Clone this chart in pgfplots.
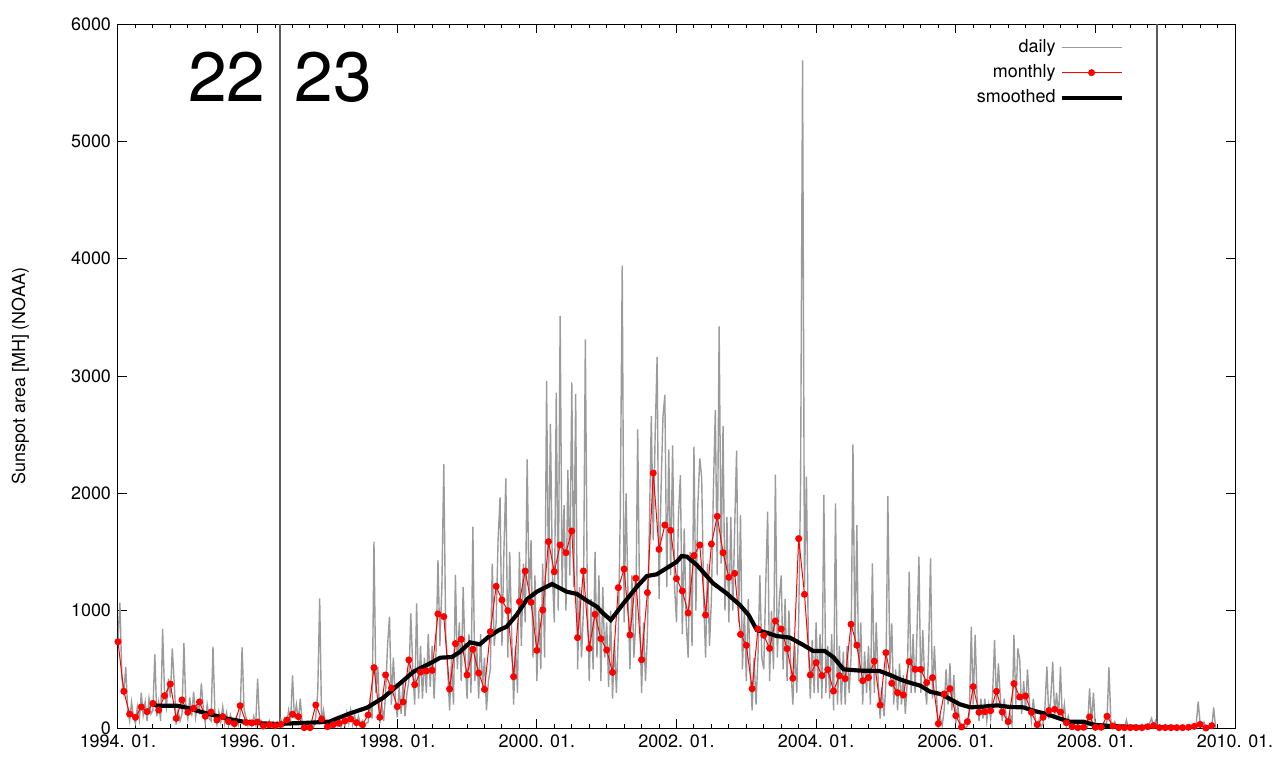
\documentclass[border=0pt]{standalone}
\usepackage{fontspec}
\setmainfont{TeX Gyre Heros}
\usepackage{pgfplots}
\pgfplotsset{compat=1.18}

\definecolor{dailygray}{RGB}{155,155,155}
\definecolor{cyclegray}{RGB}{90,90,90}

\begin{document}
\begin{tikzpicture}
\begin{axis}[
  scale only axis,
  width=558.5bp, height=352bp,
  xmin=0, xmax=192, ymin=0, ymax=6000,
  xtick={0,24,...,192},
  xticklabels={1994. 01.,1996. 01.,1998. 01.,2000. 01.,2002. 01.,2004. 01.,2006. 01.,2008. 01.,2010. 01.},
  minor x tick num=7,
  ytick={0,1000,...,6000},
  tick align=inside,
  major tick length=4.5bp, minor tick length=2.2bp,
  tick style={black, line width=0.5pt},
  axis line style={line width=0.5pt},
  /pgf/number format/1000 sep={},
  /pgf/number format/assume math mode=true,
  ticklabel style={font=\fontsize{9}{11}\selectfont},
  ylabel={Sunspot area [MH] (NOAA)},
  ylabel style={font=\fontsize{9}{11}\selectfont, at={(axis description cs:-0.0875,0.5)}, anchor=center},
  legend plot pos=right,
  legend cell align=right,
  legend style={draw=none, fill=none, font=\fontsize{9}{11}\selectfont,
    at={(rel axis cs:0.906,0.99)}, anchor=north east, row sep=0.6bp},
  legend image code/.code={\draw[mark repeat=2,mark phase=2,#1] plot coordinates {(0bp,0bp) (15bp,0bp) (30bp,0bp)};},
]
% cycle boundaries
\addplot[cyclegray, line width=0.6pt, forget plot] coordinates {(27.85,0)(27.85,6000)};
\addplot[cyclegray, line width=0.6pt, forget plot] coordinates {(178.6,0)(178.6,6000)};

% daily
\addplot[dailygray, line width=0.7pt] coordinates {
(0,760)(0.33,1068)(0.67,420)(1,300)(1.33,520)(1.67,150)(2,60)(2.33,220)(2.67,90)
(3,40)(3.33,180)(3.67,70)(4,300)(4.33,110)(4.67,220)(5,60)(5.33,250)(5.67,120)
(6,150)(6.33,628)(6.67,100)(7,220)(7.33,60)(7.67,844)(8,300)(8.33,180)(8.67,420)
(9,260)(9.33,679)(9.67,380)(10,30)(10.33,150)(10.67,60)(11,120)(11.33,724)(11.67,180)
(12,80)(12.33,260)(12.67,100)(13,310)(13.33,90)(13.67,200)(14,140)(14.33,380)(14.67,160)
(15,40)(15.33,200)(15.67,80)(16,60)(16.33,693)(16.67,110)(17,30)(17.33,140)(17.67,50)
(18,180)(18.33,40)(18.67,130)(19,20)(19.33,110)(19.67,40)(20,10)(20.33,90)(20.67,30)
(21,120)(21.33,688)(21.67,160)(22,90)(22.33,20)(22.67,70)(23,20)(23.33,100)(23.67,30)
(24,420)(24.33,40)(24.67,60)(25,0)(25.33,40)(25.67,10)(26,60)(26.33,0)(26.67,50)
(27,10)(27.33,50)(27.67,0)(28,70)(28.33,10)(28.67,40)(29,30)(29.33,150)(29.67,60)
(30,449)(30.33,80)(30.67,200)(31,60)(31.33,250)(31.67,40)(32,0)(32.33,10)(32.67,0)
(33,0)(33.33,0)(33.67,10)(34,100)(34.33,300)(34.67,1105)(35,40)(35.33,150)(35.67,30)
(36,0)(36.33,30)(36.67,0)(37,10)(37.33,70)(37.67,20)(38,80)(38.33,10)(38.67,60)
(39,20)(39.33,130)(39.67,40)(40,150)(40.33,30)(40.67,110)(41,20)(41.33,100)(41.67,30)
(42,60)(42.33,0)(42.67,40)(43,50)(43.33,220)(43.67,80)(44,1588)(44.33,300)(44.67,520)
(45,40)(45.33,200)(45.67,60)(46,300)(46.33,700)(46.67,949)(47,200)(47.33,600)(47.67,250)
(48,90)(48.33,350)(48.67,120)(49,400)(49.33,100)(49.67,300)(50,400)(50.33,977)(50.67,500)
(51,200)(51.33,1063)(51.67,250)(52,700)(52.33,250)(52.67,600)(53,300)(53.33,800)(53.67,350)
(54,700)(54.33,250)(54.67,650)(55,1432)(55.33,700)(55.67,1200)(56,2248)(56.33,800)(56.67,500)
(57,150)(57.33,600)(57.67,200)(58,1304)(58.33,500)(58.67,900)(59,400)(59.33,1200)(59.67,600)
(60,250)(60.33,800)(60.67,300)(61,1716)(61.33,400)(61.67,700)(62,250)(62.33,800)(62.67,350)
(63,600)(63.33,150)(63.67,400)(64,500)(64.33,1400)(64.67,700)(65,900)(65.33,1600)(65.67,1966)
(66,700)(66.33,1500)(66.67,2128)(67,600)(67.33,1500)(67.67,800)(68,200)(68.33,700)(68.67,300)
(69,1500)(69.33,700)(69.67,1400)(70,900)(70.33,2290)(70.67,1100)(71,1600)(71.33,600)(71.67,1300)
(72,400)(72.33,1000)(72.67,500)(73,1400)(73.33,600)(73.67,2957)(74,1200)(74.33,2591)(74.67,1300)
(75,900)(75.33,2858)(75.67,1000)(76,3512)(76.33,1200)(76.67,1900)(77,1000)(77.33,2200)(77.67,1300)
(78,2946)(78.33,1200)(78.67,2847)(79,500)(79.33,1200)(79.67,600)(80,1000)(80.33,3313)(80.67,1100)
(81,400)(81.33,1100)(81.67,500)(82,1500)(82.33,600)(82.67,1300)(83,400)(83.33,1200)(83.67,600)
(84,900)(84.33,350)(84.67,1000)(85,250)(85.33,750)(85.67,300)(86,800)(86.33,1800)(86.67,3940)
(87,900)(87.33,2000)(87.67,1100)(88,500)(88.33,1300)(88.67,600)(89,900)(89.33,2546)(89.67,1000)
(90,300)(90.33,900)(90.67,400)(91,800)(91.33,1700)(91.67,2659)(92,1600)(92.33,2500)(92.67,3160)
(93,1100)(93.33,2000)(93.67,2648)(94,2838)(94.33,1200)(94.67,2375)(95,1300)(95.33,2409)(95.67,1200)
(96,900)(96.33,1800)(96.67,2156)(97,800)(97.33,1700)(97.67,900)(98,600)(98.33,1500)(98.67,700)
(99,2398)(99.33,1000)(99.67,1900)(100,2298)(100.33,2136)(100.67,1100)(101,600)(101.33,1400)(101.67,700)
(102,1100)(102.33,2000)(102.67,2710)(103,1300)(103.33,3422)(103.67,1400)(104,2574)(104.33,1000)(104.67,1800)
(105,900)(105.33,1800)(105.67,1000)(106,1700)(106.33,2364)(106.67,900)(107,1815)(107.33,500)(107.67,1000)
(108,400)(108.33,1100)(108.67,500)(109,150)(109.33,600)(109.67,200)(110,600)(110.33,1300)(110.67,600)
(111,500)(111.33,1200)(111.67,1843)(112,400)(112.33,1000)(112.67,500)(113,2159)(113.33,600)(113.67,1100)
(114,1300)(114.33,500)(114.67,1100)(115,400)(115.33,1000)(115.67,500)(116,200)(116.33,700)(116.67,300)
(117,900)(117.33,2100)(117.67,5690)(118,1200)(118.33,2142)(118.67,700)(119,250)(119.33,750)(119.67,300)
(120,900)(120.33,300)(120.67,800)(121,250)(121.33,1986)(121.67,300)(122,700)(122.33,250)(122.67,800)
(123,150)(123.33,1915)(123.67,200)(124,700)(124.33,200)(124.67,650)(125,200)(125.33,700)(125.67,300)
(126,600)(126.33,2418)(126.67,700)(127,1730)(127.33,400)(127.67,900)(128,200)(128.33,650)(128.67,300)
(129,700)(129.33,200)(129.67,1403)(130,300)(130.33,900)(130.67,400)(131,80)(131.33,350)(131.67,100)
(132,400)(132.33,1977)(132.67,500)(133,892)(133.33,200)(133.67,500)(134,150)(134.33,550)(134.67,200)
(135,450)(135.33,120)(135.67,400)(136,1332)(136.33,300)(136.67,800)(137,300)(137.33,800)(137.67,1460)
(138,300)(138.33,835)(138.67,400)(139,200)(139.33,650)(139.67,1446)(140,250)(140.33,700)(140.67,300)
(141,0)(141.33,90)(141.67,20)(142,150)(142.33,500)(142.67,200)(143,550)(143.33,150)(143.67,450)
(144,40)(144.33,200)(144.67,60)(145,0)(145.33,30)(145.67,0)(146,20)(146.33,120)(146.67,863)
(147,200)(147.33,793)(147.67,250)(148,60)(148.33,250)(148.67,80)(149,250)(149.33,60)(149.67,200)
(150,80)(150.33,280)(150.67,750)(151,200)(151.33,550)(151.67,250)(152,60)(152.33,250)(152.67,90)
(153,20)(153.33,120)(153.67,30)(154,793)(154.33,200)(154.67,679)(155,580)(155.33,120)(155.67,400)
(156,150)(156.33,500)(156.67,200)(157,60)(157.33,250)(157.67,80)(158,0)(158.33,70)(158.67,10)
(159,40)(159.33,180)(159.67,522)(160,80)(160.33,250)(160.67,565)(161,100)(161.33,300)(161.67,80)
(162,522)(162.33,60)(162.67,200)(163,10)(163.33,100)(163.67,20)(164,0)(164.33,40)(164.67,0)
(165,0)(165.33,10)(165.67,0)(166,20)(166.33,0)(166.67,10)(167,338)(167.33,40)(167.67,301)
(168,0)(168.33,20)(168.67,0)(169,10)(169.33,0)(169.67,20)(170,60)(170.33,517)(170.67,50)
(171,0)(171.33,50)(171.67,10)(172,0)(172.33,10)(172.67,0)(173,0)(173.33,68)(173.67,0)
(174,0)(174.33,10)(174.67,0)(175,0)(175.33,0)(175.67,10)(176,0)(176.33,10)(176.67,0)
(177,0)(177.33,40)(177.67,82)(178,10)(178.33,60)(178.67,0)(179,0)(179.33,10)(179.67,0)
(180,0)(180.33,0)(180.67,10)(181,0)(181.33,10)(181.67,0)(182,0)(182.33,0)(182.67,10)
(183,0)(183.33,10)(183.67,0)(184,0)(184.33,20)(184.67,0)(185,0)(185.33,30)(185.67,224)
(186,40)(186.33,20)(186.67,50)(187,0)(187.33,0)(187.67,0)(188,0)(188.33,176)(188.67,0)
};
\addlegendentry{daily}

% monthly
\addplot[red, line width=0.5pt, mark=*, mark size=1.5pt, mark options={solid, fill=red}] coordinates {
(0,735)(1,313)(2,119)(3,91)(4,179)(5,139)(6,210)(7,153)(8,275)(9,375)(10,82)(11,239)
(12,134)(13,168)(14,222)(15,100)(16,136)(17,68)(18,97)(19,54)(20,37)(21,190)(22,48)(23,43)
(24,51)(25,17)(26,28)(27,20)(28,31)(29,68)(30,117)(31,97)(32,3)(33,3)(34,196)(35,77)
(36,11)(37,28)(38,40)(39,60)(40,77)(41,45)(42,28)(43,111)(44,514)(45,91)(46,452)(47,341)
(48,182)(49,222)(50,580)(51,369)(52,477)(53,486)(54,492)(55,972)(56,949)(57,332)(58,719)(59,756)
(60,452)(61,671)(62,469)(63,329)(64,821)(65,1208)(66,1091)(67,1000)(68,437)(69,1077)(70,1338)(71,1071)
(72,662)(73,1006)(74,1588)(75,1332)(76,1560)(77,1494)(78,1679)(79,770)(80,1338)(81,679)(82,969)(83,761)
(84,665)(85,474)(86,1196)(87,1355)(88,793)(89,1276)(90,582)(91,1154)(92,2173)(93,1523)(94,1730)(95,1685)
(96,1273)(97,1168)(98,980)(99,1469)(100,1560)(101,963)(102,1568)(103,1804)(104,1494)(105,1284)(106,1318)(107,798)
(108,705)(109,335)(110,844)(111,790)(112,679)(113,912)(114,844)(115,676)(116,424)(117,1614)(118,1139)(119,452)
(120,557)(121,446)(122,497)(123,315)(124,446)(125,420)(126,884)(127,705)(128,403)(129,429)(130,570)(131,195)
(132,642)(133,381)(134,301)(135,281)(136,565)(137,500)(138,500)(139,386)(140,429)(141,37)(142,290)(143,335)
(144,105)(145,9)(146,54)(147,352)(148,134)(149,139)(150,148)(151,313)(152,136)(153,54)(154,378)(155,264)
(156,273)(157,134)(158,28)(159,91)(160,148)(161,159)(162,136)(163,45)(164,11)(165,3)(166,6)(167,94)
(168,6)(169,6)(170,100)(171,17)(172,3)(173,3)(174,3)(175,3)(176,3)(177,11)(178,20)(179,3)
(180,3)(181,3)(182,3)(183,3)(184,6)(185,14)(186,31)(187,0)(188,20)
};
\addlegendentry{monthly}

% 13-month smoothed
\addplot[black, line width=2.1pt] coordinates {
(5.8,210)(6.65,190)(10.1,190)(11.8,173)(13.5,148)(15.8,117)(18.7,80)(21.5,54)(24.4,40)
(27.3,34)(30.1,40)(33,45)(36.4,54)(37,68)(39.9,125)(42.8,173)(45.6,258)(48.5,381)
(50.8,480)(53.1,537)(55.4,599)(57.4,605)(58.8,650)(60.5,730)(62.2,713)(63.7,778)(65.5,835)
(66.8,863)(68.5,963)(70.3,1097)(72,1162)(74.6,1227)(77.1,1162)(78.9,1142)(80.6,1085)(82.3,1034)
(83.4,977)(84.7,920)(86.9,1063)(89.2,1204)(90.9,1295)(92.6,1310)(94.9,1381)(96,1415)(96.9,1466)
(97.8,1460)(99.5,1389)(102.3,1233)(104.6,1148)(106.9,1048)(108.4,963)(109.8,835)(111.5,812)
(113.2,784)(115.5,770)(117.8,707)(119.5,656)(121.5,656)(123,602)(124.7,500)(127.6,489)(130.9,486)
(132.7,452)(134.4,415)(136.1,386)(137.9,361)(139.6,309)(141.6,287)(143.3,239)(144.7,202)(146.5,176)
(148.8,182)(151.1,193)(153.3,179)(155.6,176)(157.3,148)(159.6,119)(161.4,88)(163.5,54)(165.9,54)
(167.7,28)(170.5,17)(173.4,11)(176.3,9)(179.1,6)(181.7,6)
};
\addlegendentry{smoothed}

\node[font=\fontsize{35}{40}\selectfont] at (axis cs:18.7,5548) {22};
\node[font=\fontsize{35}{40}\selectfont] at (axis cs:37.05,5548) {23};
\end{axis}
\pgfresetboundingbox
\path (-59bp,-17bp) rectangle (581bp,364bp);
\end{tikzpicture}
\end{document}
